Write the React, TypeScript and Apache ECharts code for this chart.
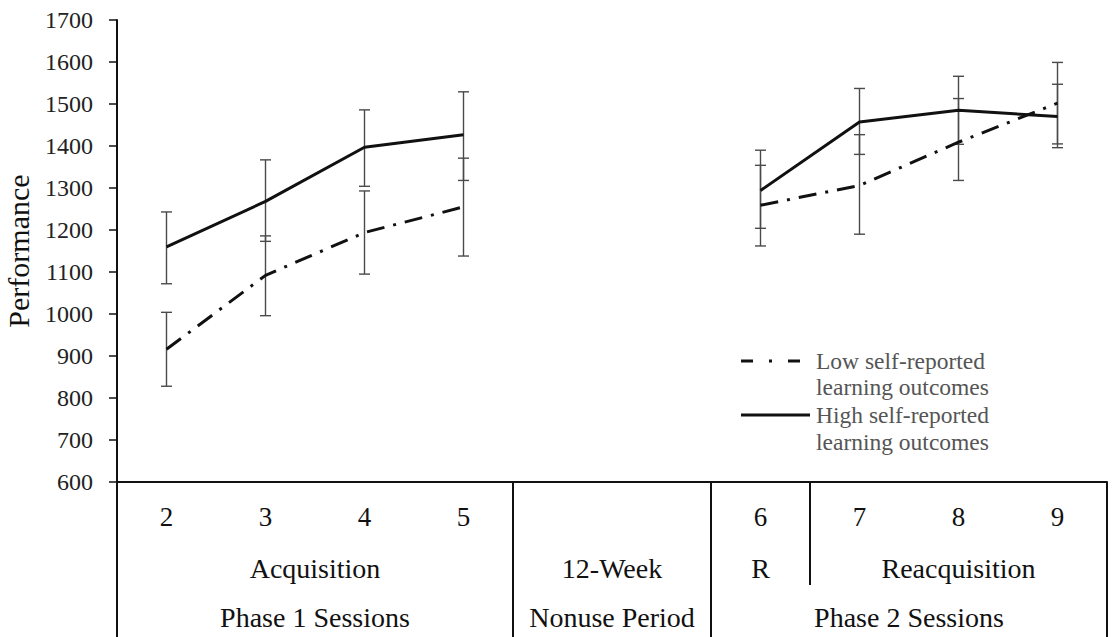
import React, { useEffect, useRef } from "react";
import * as echarts from "echarts";

// ---- data ----
const categories = ["2", "3", "4", "5", "_gapA", "_gapB", "6", "7", "8", "9"];
const lowMean = [916, 1092, 1194, 1255, null, null, 1259, 1306, 1409, 1502];
const lowUpper = [1004, 1186, 1293, 1371, null, null, 1354, 1427, 1513, 1599];
const lowLower = [828, 996, 1095, 1138, null, null, 1162, 1190, 1318, 1405];
const highMean = [1160, 1268, 1397, 1427, null, null, 1294, 1457, 1485, 1470];
const highUpper = [1243, 1367, 1486, 1529, null, null, 1390, 1537, 1566, 1547];
const highLower = [1072, 1173, 1304, 1318, null, null, 1204, 1380, 1404, 1396];
const yMin = 600;
const yMax = 1700;
const yInterval = 100;
const yName = "Performance";
const legendLow = ["Low self-reported", "learning outcomes"];
const legendHigh = ["High self-reported", "learning outcomes"];
const row1Groups = [
  { label: "Acquisition", from: 0, to: 3 },
  { label: "12-Week", from: 4, to: 5 },
  { label: "R", from: 6, to: 6 },
  { label: "Reacquisition", from: 7, to: 9 },
];
const row2Groups = [
  { label: "Phase 1 Sessions", from: 0, to: 3 },
  { label: "Nonuse Period", from: 4, to: 5 },
  { label: "Phase 2 Sessions", from: 6, to: 9 },
];

const FONT = "Liberation Serif";

function errData(upper: (number | null)[], lower: (number | null)[]) {
  const out: number[][] = [];
  categories.forEach((_, i) => {
    if (upper[i] != null && lower[i] != null) out.push([i, upper[i] as number, lower[i] as number]);
  });
  return out;
}

function errorSeries(name: string, upper: (number | null)[], lower: (number | null)[]) {
  return {
    type: "custom",
    name,
    z: 1,
    encode: { x: 0, y: [1, 2] },
    data: errData(upper, lower),
    renderItem: (params: any, api: any) => {
      const x = api.value(0);
      const top = api.coord([x, api.value(1)]);
      const bot = api.coord([x, api.value(2)]);
      const w = 5.5;
      const style = { stroke: "#4a4a4a", lineWidth: 1.4 };
      return {
        type: "group",
        children: [
          { type: "line", shape: { x1: top[0], y1: top[1], x2: bot[0], y2: bot[1] }, style },
          { type: "line", shape: { x1: top[0] - w, y1: top[1], x2: top[0] + w, y2: top[1] }, style },
          { type: "line", shape: { x1: bot[0] - w, y1: bot[1], x2: bot[0] + w, y2: bot[1] }, style },
        ],
      };
    },
  };
}

export default function App() {
  const ref = useRef<HTMLDivElement>(null);
  useEffect(() => {
    if (!ref.current) return;
    const chart = echarts.init(ref.current, undefined, { renderer: "svg" });
    chart.setOption({
      animation: false,
      backgroundColor: "#ffffff",
      grid: { left: 117, right: 5, top: 20, bottom: 155, containLabel: false, outerBoundsMode: "none" },
      xAxis: {
        type: "category",
        data: categories,
        boundaryGap: true,
        axisLine: { show: true, lineStyle: { color: "#111", width: 2 } },
        axisTick: { show: false },
        axisLabel: {
          interval: 0,
          margin: 21,
          fontFamily: FONT,
          fontSize: 27,
          color: "#111",
          formatter: (v: string) => (v.startsWith("_") ? "" : v),
        },
        splitLine: { show: false },
      },
      yAxis: {
        type: "value",
        min: yMin,
        max: yMax,
        interval: yInterval,
        name: yName,
        nameLocation: "middle",
        nameRotate: 90,
        nameGap: 84,
        nameTextStyle: { fontFamily: FONT, fontSize: 30, color: "#111" },
        axisLine: { show: true, lineStyle: { color: "#111", width: 2 } },
        axisTick: { show: true, length: 8, lineStyle: { color: "#111", width: 1.5 } },
        axisLabel: {
          margin: 24,
          fontFamily: FONT,
          fontSize: 24,
          color: "#222",
          formatter: (v: number) => String(v),
        },
        splitLine: { show: false },
      },
      series: [
        errorSeries("lowErr", lowUpper, lowLower),
        errorSeries("highErr", highUpper, highLower),
        {
          type: "line",
          name: legendLow.join(" "),
          data: lowMean,
          z: 3,
          symbol: "none",
          connectNulls: false,
          lineStyle: { color: "#111", width: 3, type: [18, 9, 3, 9], cap: "butt" },
        },
        {
          type: "line",
          name: legendHigh.join(" "),
          data: highMean,
          z: 3,
          symbol: "none",
          connectNulls: false,
          lineStyle: { color: "#111", width: 3 },
        },
      ],
    });

    const px = (i: number) => chart.convertToPixel({ xAxisIndex: 0 }, i) as number;
    const half = (px(1) - px(0)) / 2;
    const left = (i: number) => px(i) - half;
    const right = (i: number) => px(i) + half;
    const axisY = chart.convertToPixel({ yAxisIndex: 0 }, yMin) as number;
    const bottom = 637;
    const row1Y = axisY + 86;
    const row2Y = axisY + 135;
    const row1LineEnd = axisY + 103;

    const lineStyle = { stroke: "#111", lineWidth: 2 };
    const graphics: any[] = [];
    // table vertical lines
    const fullXs = [left(0), left(row2Groups[1].from), left(row2Groups[2].from), right(categories.length - 1)];
    fullXs.forEach((x) => {
      graphics.push({ type: "line", shape: { x1: x, y1: axisY, x2: x, y2: bottom }, style: lineStyle, z: 10 });
    });
    const r1x = left(row1Groups[3].from);
    graphics.push({ type: "line", shape: { x1: r1x, y1: axisY, x2: r1x, y2: row1LineEnd }, style: lineStyle, z: 10 });

    const textStyle = (t: string, x: number, y: number, size: number) => ({
      type: "text",
      x,
      y,
      style: { text: t, fontFamily: FONT, fontSize: size, fill: "#111", textAlign: "center", textVerticalAlign: "middle" },
      z: 10,
    });
    row1Groups.forEach((g) => graphics.push(textStyle(g.label, (left(g.from) + right(g.to)) / 2, row1Y, 28)));
    row2Groups.forEach((g) => graphics.push(textStyle(g.label, (left(g.from) + right(g.to)) / 2, row2Y, 28)));

    // legend
    const lgX = 741;
    const txtX = 816;
    const lgStyle = (t: string, y: number) => ({
      type: "text",
      x: txtX,
      y,
      style: { text: t, fontFamily: FONT, fontSize: 23.5, fill: "#555", textAlign: "left", textVerticalAlign: "middle" },
      z: 10,
    });
    graphics.push({
      type: "line",
      shape: { x1: lgX, y1: 361, x2: lgX + 59, y2: 361 },
      style: { stroke: "#111", lineWidth: 3, lineDash: [12, 16, 3, 16] },
      z: 10,
    });
    graphics.push({
      type: "line",
      shape: { x1: lgX, y1: 415, x2: 810, y2: 415 },
      style: { stroke: "#111", lineWidth: 3 },
      z: 10,
    });
    graphics.push(lgStyle(legendLow[0], 361));
    graphics.push(lgStyle(legendLow[1], 387));
    graphics.push(lgStyle(legendHigh[0], 415));
    graphics.push(lgStyle(legendHigh[1], 442));

    chart.setOption({ graphic: graphics });
    return () => chart.dispose();
  }, []);
  return (
    <div
      ref={ref}
      style={{ position: "fixed", left: 0, top: 0, width: 1112, height: 637, background: "#fff" }}
    />
  );
}
